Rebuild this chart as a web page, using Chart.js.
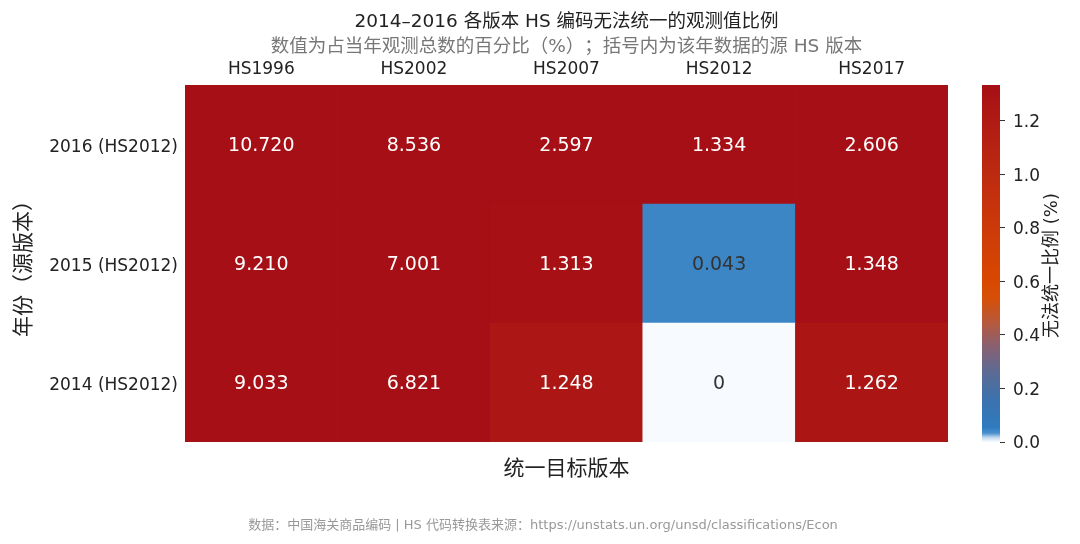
<!DOCTYPE html>
<html>
<head>
<meta charset="utf-8">
<script src="https://cdn.jsdelivr.net/npm/chart.js@4"></script>
<style>
  body { margin: 0; background: #fff; }
  #wrap { position: relative; width: 1080px; height: 544px; }
  #heat { position: absolute; left: 0; top: 0; }
  #bar { position: absolute; left: 970px; top: 0; }
  #source {
    position: absolute; left: 0; top: 514px; width: 1086px; text-align: center;
    font: 13px "DejaVu Sans", "Noto Sans CJK SC", sans-serif; color: #999;
  }
</style>
</head>
<body>
<div id="wrap">
  <canvas id="heat" width="1080" height="544"></canvas>
  <canvas id="bar" width="110" height="544"></canvas>
  <div id="source">数据：中国海关商品编码 | HS 代码转换表来源：https://unstats.un.org/unsd/classifications/Econ</div>
</div>
<script>
const versions = ["HS1996", "HS2002", "HS2007", "HS2012", "HS2017"];
const years = ["2014 (HS2012)", "2015 (HS2012)", "2016 (HS2012)"];
const share2014 = [9.033, 6.821, 1.248, 0, 1.262];
const share2015 = [9.210, 7.001, 1.313, 0.043, 1.348];
const share2016 = [10.720, 8.536, 2.597, 1.334, 2.606];
const shares = [share2014, share2015, share2016];
const colorMax = 1.334;

const FONT = '"DejaVu Sans", "Noto Sans CJK SC", sans-serif';

// colour ramp: white -> blue -> slate -> orange -> dark red
const ramp = [
  [0, "#f7fbff"], [0.012, "#c6dbef"], [0.025, "#4a90cd"], [0.04, "#2f7bbf"],
  [0.12, "#3b72ad"], [0.2, "#5e6a92"], [0.27, "#8a6070"], [0.33, "#b45a40"],
  [0.4, "#d5500a"], [0.45, "#d94801"], [0.6, "#cc3a0a"], [0.75, "#be2a10"],
  [0.9, "#b01a14"], [1, "#a50f15"],
];

function hex(c) {
  return [1, 3, 5].map((i) => parseInt(c.slice(i, i + 2), 16));
}

function colorFor(v) {
  const t = Math.min(Math.max(v / colorMax, 0), 1);
  for (let i = 1; i < ramp.length; i++) {
    if (t <= ramp[i][0]) {
      const [t0, c0] = ramp[i - 1];
      const [t1, c1] = ramp[i];
      const f = (t - t0) / (t1 - t0);
      const a = hex(c0), b = hex(c1);
      const rgb = a.map((x, k) => Math.round(x + (b[k] - x) * f));
      return `rgb(${rgb.join(",")})`;
    }
  }
  return ramp[ramp.length - 1][1];
}

const cellLabels = {
  id: "cellLabels",
  afterDatasetsDraw(chart) {
    const ctx = chart.ctx;
    ctx.save();
    ctx.font = `19px ${FONT}`;
    ctx.textAlign = "center";
    ctx.textBaseline = "middle";
    chart.data.datasets.forEach((ds, di) => {
      chart.getDatasetMeta(di).data.forEach((el, i) => {
        const v = shares[di][i];
        ctx.fillStyle = v / colorMax < 0.1 ? "#333" : "#fff";
        ctx.fillText(v === 0 ? "0" : v.toFixed(3), el.x, (el.y + el.base) / 2 + 2);
      });
    });
    ctx.restore();
  },
};

new Chart(document.getElementById("heat"), {
  type: "bar",
  data: {
    labels: versions,
    datasets: years.map((y, r) => ({
      label: y,
      data: versions.map(() => 1),
      backgroundColor: shares[r].map(colorFor),
      borderWidth: 0,
      barPercentage: 1,
      categoryPercentage: 1,
      xAxisID: "x",
    })),
  },
  options: {
    responsive: false,
    animation: false,
    layout: { padding: { left: 5, right: 132, top: 0, bottom: 62 } },
    plugins: {
      legend: { display: false },
      tooltip: { enabled: false },
      title: {
        display: true,
        fullSize: false,
        text: "2014–2016 各版本 HS 编码无法统一的观测值比例",
        color: "#222",
        font: { family: FONT, size: 18.5, weight: "normal" },
        padding: { top: 11, bottom: 3 },
      },
      subtitle: {
        display: true,
        fullSize: false,
        text: "数值为占当年观测总数的百分比（%）；括号内为该年数据的源 HS 版本",
        color: "#777",
        font: { family: FONT, size: 18.5 },
        padding: { top: 0, bottom: 0 },
      },
    },
    scales: {
      x: {
        position: "top",
        stacked: true,
        grid: { display: false, drawTicks: false },
        border: { display: false },
        ticks: { color: "#222", font: { family: FONT, size: 17 }, padding: 5 },
        afterFit: (s) => { s.height = 26.6; },
      },
      x2: {
        type: "category",
        labels: versions,
        position: "bottom",
        grid: { display: false, drawTicks: false },
        border: { display: false },
        ticks: { display: false },
        title: {
          display: true,
          text: "统一目标版本",
          color: "#222",
          font: { family: FONT, size: 21 },
          padding: { top: 3, bottom: 0 },
        },
        afterFit: (s) => { s.height = 40; },
      },
      y: {
        stacked: true,
        min: 0,
        max: 3,
        grid: { display: false, drawTicks: false },
        border: { display: false },
        afterBuildTicks: (s) => { s.ticks = [0.5, 1.5, 2.5].map((v) => ({ value: v })); },
        ticks: {
          color: "#222",
          font: { family: FONT, size: 17 },
          padding: 7,
          labelOffset: 3,
          callback: (v) => years[Math.floor(v)],
        },
        title: {
          display: true,
          text: "年份（源版本）",
          color: "#222",
          font: { family: FONT, size: 21 },
          padding: { top: 7, bottom: 0 },
        },
        afterFit: (s) => { s.width = 180; },
      },
    },
  },
  plugins: [cellLabels],
});

// colour bar
const barTitle = {
  id: "barTitle",
  afterDraw(chart) {
    const ctx = chart.ctx;
    const a = chart.chartArea;
    ctx.save();
    ctx.translate(82, (a.top + a.bottom) / 2 + 2);
    ctx.rotate(-Math.PI / 2);
    ctx.font = `18px ${FONT}`;
    ctx.fillStyle = "#222";
    ctx.textAlign = "center";
    ctx.textBaseline = "middle";
    ctx.fillText("无法统一比例 (%)", 0, 0);
    ctx.restore();
  },
};

new Chart(document.getElementById("bar"), {
  type: "bar",
  data: {
    labels: [""],
    datasets: [{
      data: [colorMax],
      borderWidth: 0,
      barPercentage: 1,
      categoryPercentage: 1,
      backgroundColor: (c) => {
        const area = c.chart.chartArea;
        if (!area) return "#a50f15";
        const g = c.chart.ctx.createLinearGradient(0, area.bottom, 0, area.top);
        ramp.forEach(([t, col]) => g.addColorStop(t, col));
        return g;
      },
    }],
  },
  options: {
    responsive: false,
    animation: false,
    layout: { padding: { left: 12, right: 0, top: 85, bottom: 102 } },
    plugins: { legend: { display: false }, tooltip: { enabled: false } },
    scales: {
      x: { display: false },
      y: {
        position: "right",
        min: 0,
        max: colorMax,
        grid: { drawOnChartArea: false, drawTicks: true, tickLength: 5, color: "#333" },
        border: { display: false },
        ticks: {
          stepSize: 0.2,
          includeBounds: false,
          color: "#222",
          font: { family: FONT, size: 17 },
          padding: 8,
          labelOffset: 2,
          callback: (v) => v.toFixed(1),
        },
        afterFit: (s) => { s.width = 80; },
      },
    },
  },
  plugins: [barTitle],
});
</script>
</body>
</html>
